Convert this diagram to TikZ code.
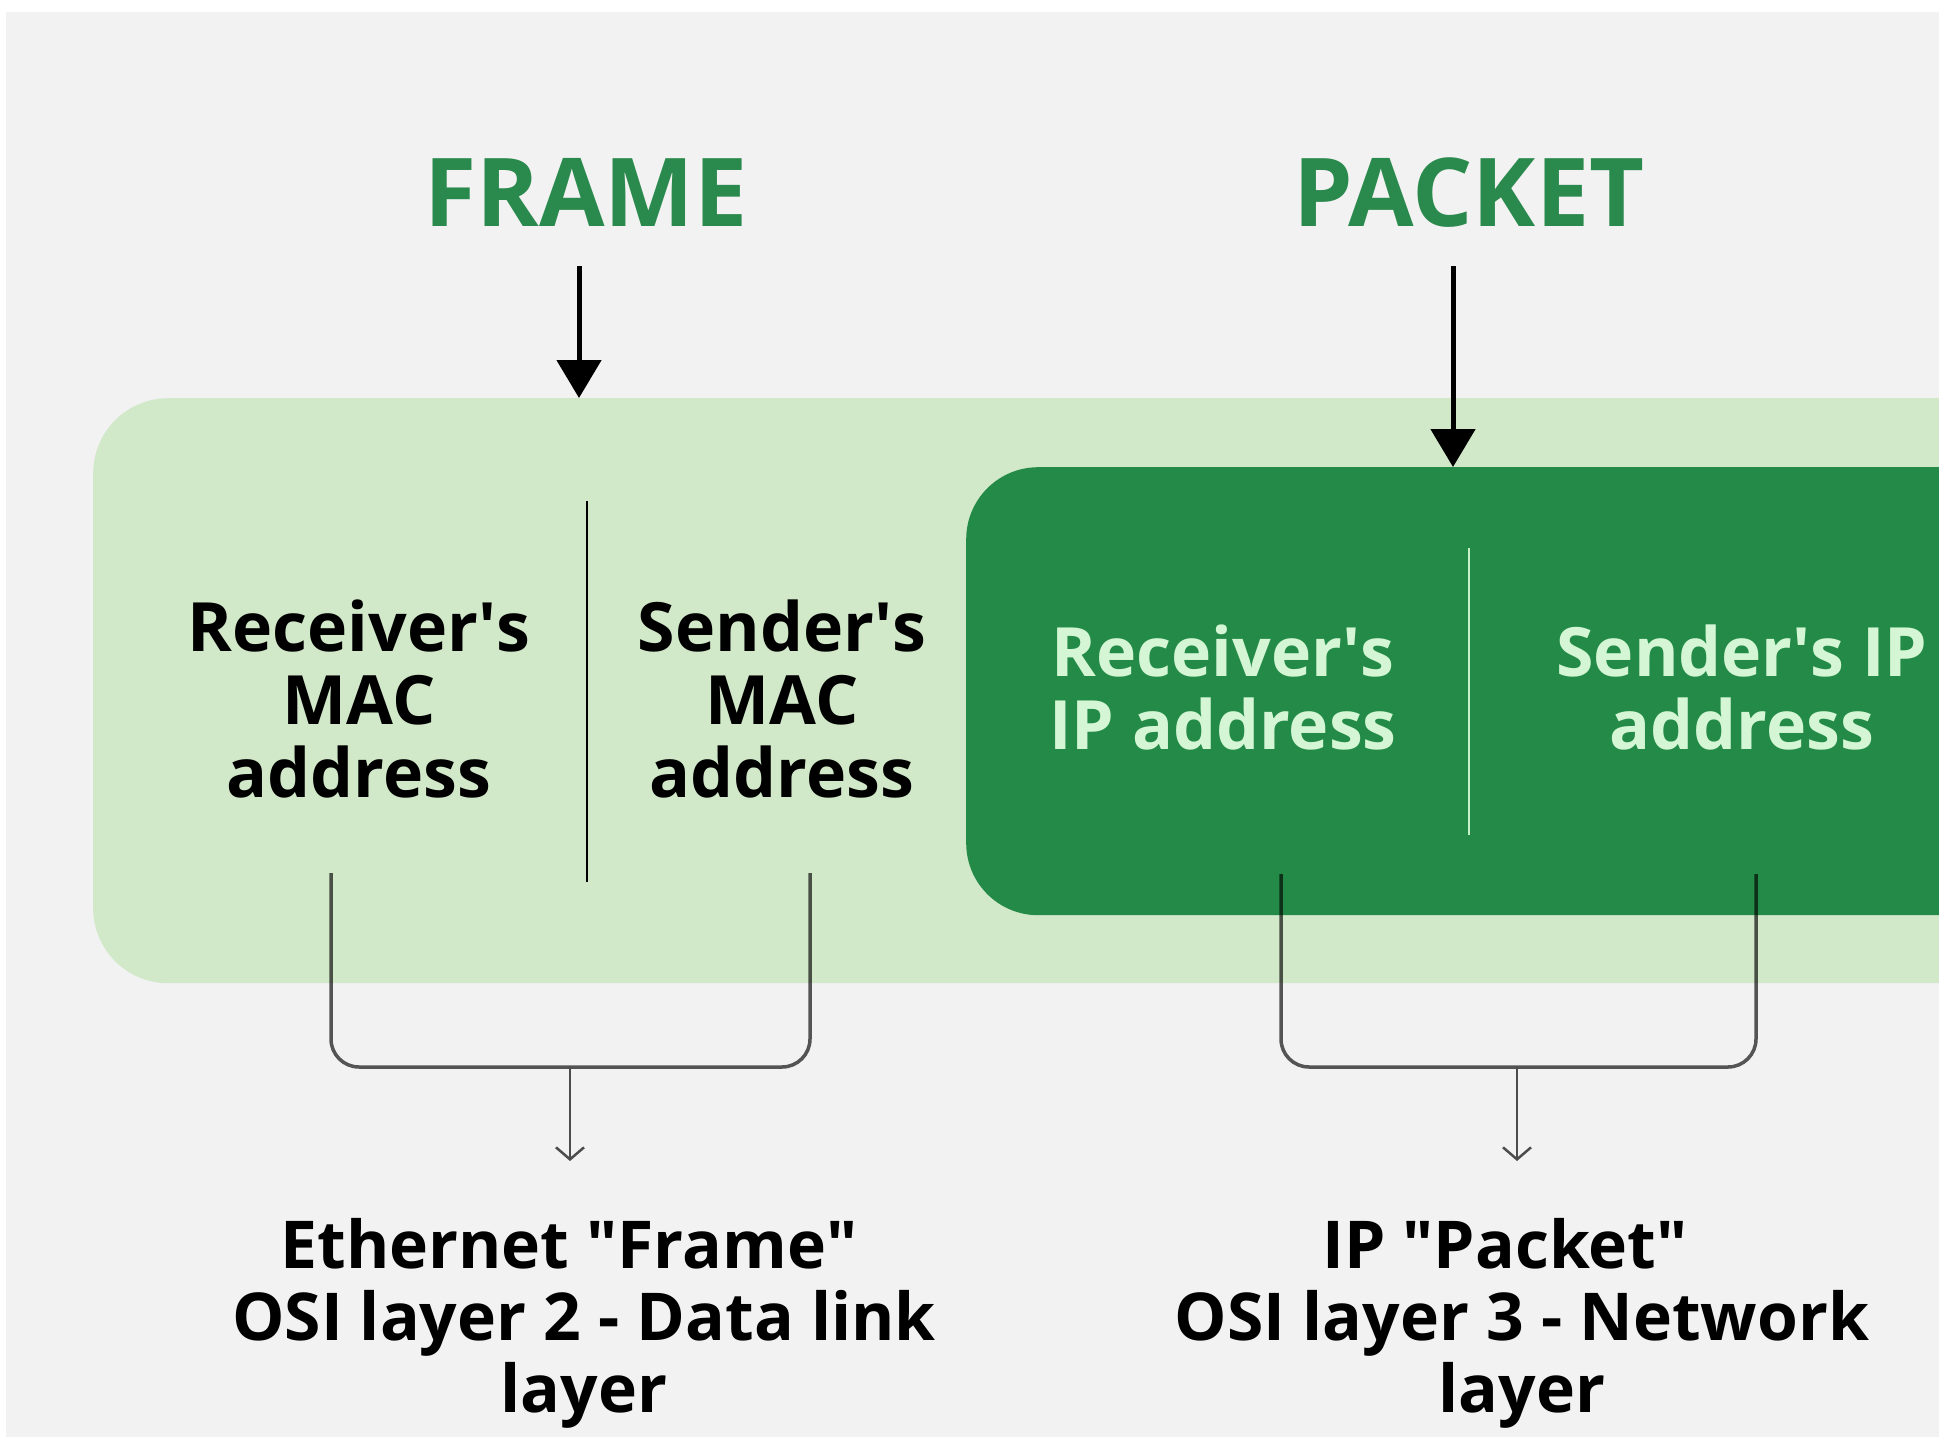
\documentclass[tikz,border=0pt]{standalone}
\usepackage{fontspec}
\setmainfont{Open Sans}
\usetikzlibrary{arrows.meta}
\definecolor{bgc}{RGB}{242,242,242}
\definecolor{lightg}{RGB}{209,232,201}
\definecolor{darkg}{RGB}{35,139,71}
\definecolor{titleg}{RGB}{42,137,76}
\definecolor{mint}{RGB}{212,246,212}
\definecolor{divmint}{RGB}{200,240,200}
\newcommand{\ap}{\textquotesingle}
\newcommand{\dq}{\textquotedbl}
\tikzset{
  title/.style={font=\fontsize{95}{100}\selectfont\bfseries, text=titleg, anchor=base, inner sep=0pt},
  field/.style={font=\fontsize{68}{73}\selectfont\bfseries, align=center, inner sep=0pt},
  caption/.style={font=\fontsize{66}{72}\selectfont\bfseries, align=center, inner sep=0pt},
  bigarrow/.style={line width=5pt, -{Triangle[length=38pt,width=44pt]}},
  bracket/.style={line width=3.5pt, draw=black, draw opacity=0.65, rounded corners=28pt},
  smallarrow/.style={line width=2.5pt, draw=black!70, -{Straight Barb[length=12pt,width=28pt,line width=2.5pt]}},
}
\begin{document}
\begin{tikzpicture}[x=1pt,y=-1pt]
\useasboundingbox (0,0) rectangle (1939,1437);
\fill[white] (0,0) rectangle (1939,1437);
\fill[bgc] (6,12) rectangle (1939,1437);
\begin{scope}
\clip (0,0) rectangle (1939,1437);
\node (outer) [fill=lightg, rounded corners=75pt, minimum width=2100pt, minimum height=585pt, anchor=north west, inner sep=0pt] at (93,398) {};
\node (inner) [fill=darkg, rounded corners=72pt, minimum width=1200pt, minimum height=448pt, anchor=north west, inner sep=0pt] at (966,467) {};
\end{scope}

% titles
\node (frame) [title] at (586,226) {FRAME};
\node (packet) [title] at (1469,226) {PACKET};
\coordinate (fa) at (579,266);
\coordinate (fb) at (579,398);
\coordinate (pa) at (1453,266);
\coordinate (pb) at (1453,467);
\draw[bigarrow] (fa) -- (fb);
\draw[bigarrow] (pa) -- (pb);

% dividers
\coordinate (d1t) at (587,501);
\coordinate (d1b) at (587,882);
\coordinate (d2t) at (1469,548);
\coordinate (d2b) at (1469,835);
\draw[line width=2.5pt, black] (d1t) -- (d1b);
\draw[line width=2.5pt, divmint] (d2t) -- (d2b);

% field texts
\node (rmac) [field] at (359,699) {Receiver\ap s\\MAC\\address};
\node (smac) [field] at (782,699) {Sender\ap s\\MAC\\address};
\node (rip) [field, text=mint] at (1223,687) {Receiver\ap s\\IP address};
\node (sip) [field, text=mint] at (1742,687) {Sender\ap s IP\\address};

% brackets
\coordinate (b1a) at (331,873);
\coordinate (b1b) at (810,873);
\coordinate (b1m) at (570,1067);
\coordinate (b1e) at (570,1161);
\draw[bracket] (b1a) |- (b1m) -| (b1b);
\draw[smallarrow] (b1m) -- (b1e);

\coordinate (b2a) at (1281,874);
\coordinate (b2b) at (1756,874);
\coordinate (b2m) at (1517,1067);
\coordinate (b2e) at (1517,1161);
\draw[bracket] (b2a) |- (b2m) -| (b2b);
\draw[smallarrow] (b2m) -- (b2e);

% captions
\node (cap1) [caption] at (584,1323) {Ethernet \dq Frame\dq\kern30pt\\OSI layer 2 - Data link\\layer};
\node (cap2) [caption] at (1522,1323) {IP \dq Packet\dq\kern34pt\\OSI layer 3 - Network\\layer};
\end{tikzpicture}
\end{document}
